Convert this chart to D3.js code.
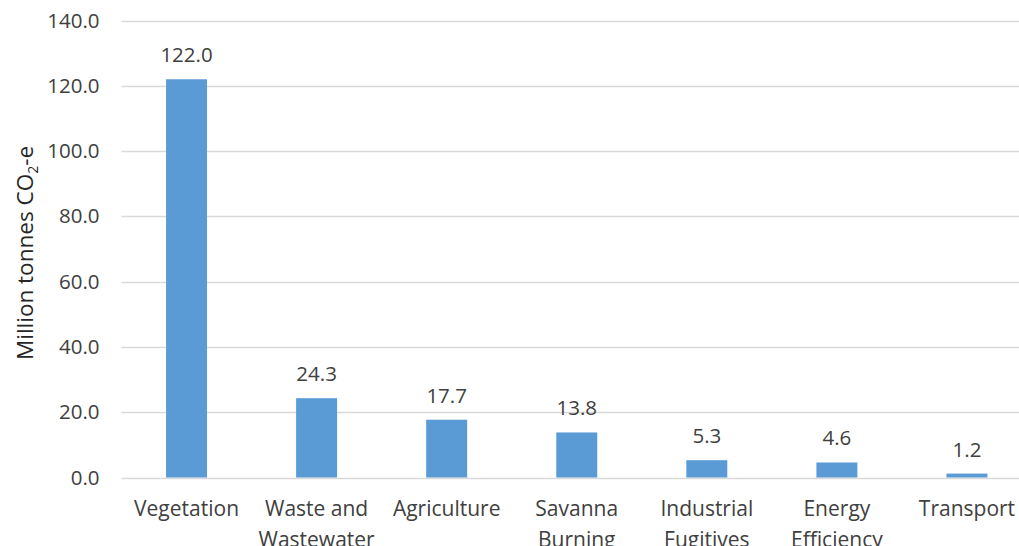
<!DOCTYPE html>
<html>
<head>
<meta charset="utf-8">
<script src="https://cdn.jsdelivr.net/npm/d3@7"></script>
<style>
  html, body { margin: 0; padding: 0; background: #fff; overflow: hidden; }
  svg { display: block; font-family: "Open Sans", "Noto Sans", sans-serif; }
</style>
</head>
<body>
<svg id="chart" width="1019" height="546"></svg>
<script>
// Emissions by sector (million tonnes CO2-e)
const categories = [
  ["Vegetation"],
  ["Waste and", "Wastewater"],
  ["Agriculture"],
  ["Savanna", "Burning"],
  ["Industrial", "Fugitives"],
  ["Energy", "Efficiency"],
  ["Transport"]
];
const values = [122.0, 24.3, 17.7, 13.8, 5.3, 4.6, 1.2];
const yTicks = [0, 20, 40, 60, 80, 100, 120, 140];

(function () {
  const svg = d3.select("#chart");
  const W = 1019;
  const plotLeft = 121.5, plotRight = 1032, plotTop = 20.5, plotBottom = 477.5;
  const textColor = "#404040";

  const keys = categories.map(c => c.join(" "));
  const x = d3.scaleBand().domain(keys).range([plotLeft, plotRight]).paddingInner(0.685).paddingOuter(0.3425);
  const y = d3.scaleLinear().domain([0, 140]).range([plotBottom, plotTop]);

  // Horizontal gridlines
  svg.append("g")
    .selectAll("line")
    .data(yTicks)
    .join("line")
    .attr("x1", plotLeft).attr("x2", W)
    .attr("y1", d => Math.round(y(d)) + 0.5).attr("y2", d => Math.round(y(d)) + 0.5)
    .attr("stroke", "#d9d9d9").attr("stroke-width", 1.3);

  // Y axis labels
  const yAxis = d3.axisLeft(y).tickValues(yTicks).tickFormat(d3.format(".1f")).tickSize(0).tickPadding(22);
  const gy = svg.append("g").attr("transform", `translate(${plotLeft},0)`).call(yAxis);
  gy.select(".domain").remove();
  gy.selectAll("text").attr("fill", textColor).style("font-size", "20.5px").style("font-family", "Open Sans, sans-serif");

  // Bars
  svg.append("g")
    .selectAll("rect")
    .data(values)
    .join("rect")
    .attr("x", (d, i) => x(keys[i]))
    .attr("width", x.bandwidth())
    .attr("y", d => y(d))
    .attr("height", d => y(0) - y(d))
    .attr("fill", "#5b9bd5");

  // Value labels
  svg.append("g")
    .selectAll("text")
    .data(values)
    .join("text")
    .attr("x", (d, i) => x(keys[i]) + x.bandwidth() / 2)
    .attr("y", d => y(d) - 17)
    .attr("text-anchor", "middle")
    .attr("fill", textColor)
    .style("font-size", "20.5px")
    .text(d => d3.format(".1f")(d));

  // Category labels
  const cat = svg.append("g")
    .selectAll("text")
    .data(categories)
    .join("text")
    .attr("x", (d, i) => x(keys[i]) + x.bandwidth() / 2)
    .attr("y", 516)
    .attr("text-anchor", "middle")
    .attr("fill", textColor)
    .style("font-size", "21px");
  cat.selectAll("tspan")
    .data(d => d)
    .join("tspan")
    .attr("x", function () { return d3.select(this.parentNode).attr("x"); })
    .attr("dy", (d, i) => i === 0 ? 0 : 31)
    .text(d => d);

  // Y axis title
  const title = svg.append("text")
    .attr("transform", `translate(33,253) rotate(-90)`)
    .attr("text-anchor", "middle")
    .attr("fill", "#262626")
    .style("font-size", "22.5px");
  title.append("tspan").text("Million tonnes CO");
  title.append("tspan").attr("dy", 5).style("font-size", "14px").text("2");
  title.append("tspan").attr("dy", -5).text("-e");
})();
</script>
</body>
</html>
